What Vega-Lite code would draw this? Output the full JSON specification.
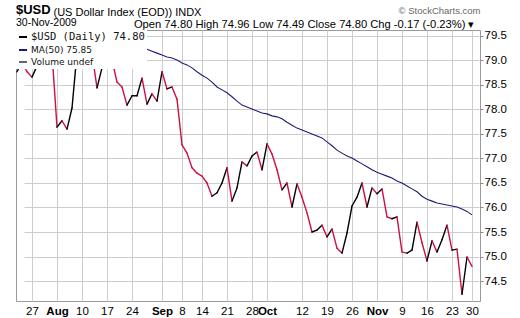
{
  "$schema": "https://vega.github.io/schema/vega-lite/v6.json",
  "width": 464,
  "height": 271,
  "autosize": {"type": "none"},
  "padding": {"left": 16, "top": 30, "right": 40, "bottom": 17},
  "background": "white",
  "config": {
    "font": "Liberation Sans",
    "view": {"stroke": "#9a9a9a", "strokeWidth": 1},
    "legend": {
      "orient": "top-left", "offset": 0, "padding": 2, "fillColor": "white",
      "labelFont": "DejaVu Sans", "labelFontSize": 9, "labelColor": "#111",
      "symbolType": "stroke", "symbolStrokeWidth": 2, "symbolSize": 64,
      "rowPadding": 2, "labelLimit": 300, "labelOffset": 3, "title": null
    }
  },
  "title": {
    "text": "$USD", "subtitle": "30-Nov-2009", "anchor": "start", "frame": "group",
    "font": "Liberation Sans", "fontSize": 13, "fontWeight": "bold", "color": "#000",
    "subtitleFont": "Liberation Sans", "subtitleFontSize": 10.5, "subtitleColor": "#000",
    "subtitlePadding": 1, "offset": -23
  },
  "datasets": {
    "px": [
      {"d": "2009-07-22", "c": 78.77}, {"d": "2009-07-23", "c": 78.97}, {"d": "2009-07-24", "c": 78.77},
      {"d": "2009-07-27", "c": 78.66}, {"d": "2009-07-28", "c": 78.89}, {"d": "2009-07-29", "c": 79.25},
      {"d": "2009-07-30", "c": 79.45}, {"d": "2009-07-31", "c": 79.15}, {"d": "2009-08-03", "c": 77.64},
      {"d": "2009-08-04", "c": 77.77}, {"d": "2009-08-05", "c": 77.60}, {"d": "2009-08-06", "c": 78.03},
      {"d": "2009-08-07", "c": 79.15}, {"d": "2009-08-10", "c": 79.45}, {"d": "2009-08-11", "c": 79.35},
      {"d": "2009-08-12", "c": 79.15}, {"d": "2009-08-13", "c": 78.44}, {"d": "2009-08-14", "c": 78.85},
      {"d": "2009-08-17", "c": 79.29}, {"d": "2009-08-18", "c": 79.01}, {"d": "2009-08-19", "c": 78.56},
      {"d": "2009-08-20", "c": 78.46}, {"d": "2009-08-21", "c": 78.09}, {"d": "2009-08-24", "c": 78.28},
      {"d": "2009-08-25", "c": 78.28}, {"d": "2009-08-26", "c": 78.64}, {"d": "2009-08-27", "c": 78.11},
      {"d": "2009-08-28", "c": 78.32}, {"d": "2009-08-31", "c": 78.17}, {"d": "2009-09-01", "c": 78.77},
      {"d": "2009-09-02", "c": 78.42}, {"d": "2009-09-03", "c": 78.46}, {"d": "2009-09-04", "c": 78.21},
      {"d": "2009-09-08", "c": 77.28}, {"d": "2009-09-09", "c": 77.11}, {"d": "2009-09-10", "c": 76.81},
      {"d": "2009-09-11", "c": 76.70}, {"d": "2009-09-14", "c": 76.64}, {"d": "2009-09-15", "c": 76.50},
      {"d": "2009-09-16", "c": 76.23}, {"d": "2009-09-17", "c": 76.30}, {"d": "2009-09-18", "c": 76.50},
      {"d": "2009-09-21", "c": 76.81}, {"d": "2009-09-22", "c": 76.13}, {"d": "2009-09-23", "c": 76.40},
      {"d": "2009-09-24", "c": 76.93}, {"d": "2009-09-25", "c": 76.85}, {"d": "2009-09-28", "c": 77.05},
      {"d": "2009-09-29", "c": 77.13}, {"d": "2009-09-30", "c": 76.77}, {"d": "2009-10-01", "c": 77.30},
      {"d": "2009-10-02", "c": 77.09}, {"d": "2009-10-05", "c": 76.77}, {"d": "2009-10-06", "c": 76.36},
      {"d": "2009-10-07", "c": 76.50}, {"d": "2009-10-08", "c": 76.01}, {"d": "2009-10-09", "c": 76.48},
      {"d": "2009-10-12", "c": 76.21}, {"d": "2009-10-13", "c": 75.89}, {"d": "2009-10-14", "c": 75.50},
      {"d": "2009-10-15", "c": 75.54}, {"d": "2009-10-16", "c": 75.64}, {"d": "2009-10-19", "c": 75.40},
      {"d": "2009-10-20", "c": 75.56}, {"d": "2009-10-21", "c": 75.17}, {"d": "2009-10-22", "c": 75.07},
      {"d": "2009-10-23", "c": 75.48}, {"d": "2009-10-26", "c": 76.03}, {"d": "2009-10-27", "c": 76.21},
      {"d": "2009-10-28", "c": 76.50}, {"d": "2009-10-29", "c": 76.01}, {"d": "2009-10-30", "c": 76.40},
      {"d": "2009-11-02", "c": 76.28}, {"d": "2009-11-03", "c": 76.38}, {"d": "2009-11-04", "c": 75.81},
      {"d": "2009-11-05", "c": 75.77}, {"d": "2009-11-06", "c": 75.81}, {"d": "2009-11-09", "c": 75.09},
      {"d": "2009-11-10", "c": 75.07}, {"d": "2009-11-11", "c": 75.13}, {"d": "2009-11-12", "c": 75.70},
      {"d": "2009-11-13", "c": 75.28}, {"d": "2009-11-16", "c": 74.91}, {"d": "2009-11-17", "c": 75.32},
      {"d": "2009-11-18", "c": 75.09}, {"d": "2009-11-19", "c": 75.34}, {"d": "2009-11-20", "c": 75.64},
      {"d": "2009-11-23", "c": 75.13}, {"d": "2009-11-24", "c": 75.15}, {"d": "2009-11-25", "c": 74.23},
      {"d": "2009-11-27", "c": 74.99}, {"d": "2009-11-30", "c": 74.80}
    ],
    "ma": [
      {"d": "2009-08-20", "m": 79.46}, {"d": "2009-08-21", "m": 79.42}, {"d": "2009-08-24", "m": 79.38},
      {"d": "2009-08-25", "m": 79.33}, {"d": "2009-08-26", "m": 79.28}, {"d": "2009-08-27", "m": 79.23},
      {"d": "2009-08-28", "m": 79.19}, {"d": "2009-08-31", "m": 79.15}, {"d": "2009-09-01", "m": 79.11},
      {"d": "2009-09-02", "m": 79.07}, {"d": "2009-09-03", "m": 79.05}, {"d": "2009-09-04", "m": 79.01},
      {"d": "2009-09-08", "m": 78.95}, {"d": "2009-09-09", "m": 78.91}, {"d": "2009-09-10", "m": 78.85},
      {"d": "2009-09-11", "m": 78.77}, {"d": "2009-09-14", "m": 78.70}, {"d": "2009-09-15", "m": 78.64},
      {"d": "2009-09-16", "m": 78.56}, {"d": "2009-09-17", "m": 78.46}, {"d": "2009-09-18", "m": 78.40},
      {"d": "2009-09-21", "m": 78.34}, {"d": "2009-09-22", "m": 78.26}, {"d": "2009-09-23", "m": 78.17},
      {"d": "2009-09-24", "m": 78.09}, {"d": "2009-09-25", "m": 78.05}, {"d": "2009-09-28", "m": 78.01},
      {"d": "2009-09-29", "m": 77.97}, {"d": "2009-09-30", "m": 77.93}, {"d": "2009-10-01", "m": 77.91},
      {"d": "2009-10-02", "m": 77.87}, {"d": "2009-10-05", "m": 77.85}, {"d": "2009-10-06", "m": 77.81},
      {"d": "2009-10-07", "m": 77.74}, {"d": "2009-10-08", "m": 77.68}, {"d": "2009-10-09", "m": 77.62},
      {"d": "2009-10-12", "m": 77.58}, {"d": "2009-10-13", "m": 77.54}, {"d": "2009-10-14", "m": 77.50},
      {"d": "2009-10-15", "m": 77.46}, {"d": "2009-10-16", "m": 77.42}, {"d": "2009-10-19", "m": 77.34},
      {"d": "2009-10-20", "m": 77.26}, {"d": "2009-10-21", "m": 77.17}, {"d": "2009-10-22", "m": 77.11},
      {"d": "2009-10-23", "m": 77.05}, {"d": "2009-10-26", "m": 77.01}, {"d": "2009-10-27", "m": 76.95},
      {"d": "2009-10-28", "m": 76.89}, {"d": "2009-10-29", "m": 76.83}, {"d": "2009-10-30", "m": 76.77},
      {"d": "2009-11-02", "m": 76.72}, {"d": "2009-11-03", "m": 76.68}, {"d": "2009-11-04", "m": 76.64},
      {"d": "2009-11-05", "m": 76.60}, {"d": "2009-11-06", "m": 76.54}, {"d": "2009-11-09", "m": 76.50},
      {"d": "2009-11-10", "m": 76.44}, {"d": "2009-11-11", "m": 76.38}, {"d": "2009-11-12", "m": 76.32},
      {"d": "2009-11-13", "m": 76.23}, {"d": "2009-11-16", "m": 76.17}, {"d": "2009-11-17", "m": 76.13},
      {"d": "2009-11-18", "m": 76.09}, {"d": "2009-11-19", "m": 76.07}, {"d": "2009-11-20", "m": 76.05},
      {"d": "2009-11-23", "m": 76.03}, {"d": "2009-11-24", "m": 76.01}, {"d": "2009-11-25", "m": 75.97},
      {"d": "2009-11-27", "m": 75.92}, {"d": "2009-11-30", "m": 75.85}
    ]
  },
  "layer": [
    {
      "data": {"name": "px"},
      "transform": [
        {"window": [{"op": "lag", "field": "c", "as": "pc"}, {"op": "lag", "field": "d", "as": "pd"}],
         "sort": [{"field": "d", "order": "ascending"}]},
        {"filter": "datum.pd != null"}
      ],
      "mark": {"type": "rule", "strokeWidth": 1.4, "strokeCap": "round", "clip": true},
      "encoding": {
        "x": {
          "field": "pd", "type": "ordinal",
          "scale": {"type": "point", "range": [1, 456], "padding": 0},
          "axis": {
            "values": ["2009-07-27","2009-08-03","2009-08-10","2009-08-17","2009-08-24","2009-09-01","2009-09-08","2009-09-14","2009-09-21","2009-09-28","2009-10-01","2009-10-12","2009-10-19","2009-10-26","2009-11-02","2009-11-09","2009-11-16","2009-11-23","2009-11-30"],
            "labelExpr": "utcdate(toDate(datum.value)) <= 3 ? utcFormat(toDate(datum.value), '%b') : utcFormat(toDate(datum.value), '%-d')",
            "labelFontWeight": {"condition": {"test": "utcdate(toDate(datum.value)) <= 3", "value": "bold"}, "value": "normal"},
            "labelAngle": 0, "labelOverlap": false, "labelFlush": false,
            "labelFont": "Liberation Sans", "labelFontSize": 11.5, "labelColor": "#000", "labelPadding": 4,
            "ticks": false, "domain": false,
            "grid": true, "gridColor": "#cdcdcd", "gridWidth": 1,
            "title": "© StockCharts.com", "titleFont": "Liberation Sans", "titleFontSize": 9.5,
            "titleFontWeight": "normal", "titleColor": "#666", "titleAlign": "right",
            "titleBaseline": "alphabetic", "titleX": 464, "titleY": -288, "titleAngle": 0
          }
        },
        "x2": {"field": "d"},
        "y": {
          "field": "pc", "type": "quantitative",
          "scale": {"domain": [74.092, 79.622], "zero": false, "nice": false},
          "axis": {
            "orient": "right",
            "values": [74.5, 75, 75.5, 76, 76.5, 77, 77.5, 78, 78.5, 79, 79.5],
            "format": ".1f", "grid": true, "gridColor": "#cdcdcd", "gridWidth": 1,
            "domain": false, "tickSize": 3, "tickColor": "#888",
            "labelFont": "Liberation Sans", "labelFontSize": 11.5, "labelColor": "#000", "labelPadding": 1,
            "title": "Open 74.80 High 74.96 Low 74.49 Close 74.80 Chg -0.17 (-0.23%) ▾",
            "titleFont": "Liberation Sans", "titleFontSize": 11.2, "titleFontWeight": "normal", "titleColor": "#000",
            "titleAngle": 0, "titleAlign": "right", "titleBaseline": "alphabetic",
            "titleX": -6, "titleY": -3
          }
        },
        "y2": {"field": "c"},
        "color": {"condition": {"test": "datum.c >= datum.pc", "value": "#000000"}, "value": "#cc1040"}
      }
    },
    {
      "data": {"name": "ma"},
      "mark": {"type": "line", "strokeWidth": 1.1, "clip": true},
      "encoding": {
        "x": {"field": "d", "type": "ordinal"},
        "y": {
          "field": "m", "type": "quantitative",
          "scale": {"domain": [74.092, 79.622], "zero": false, "nice": false},
          "axis": {
            "orient": "left", "labels": false, "ticks": false, "domain": false, "grid": false,
            "title": "(US Dollar Index (EOD)) INDX",
            "titleFont": "Liberation Sans", "titleFontSize": 11, "titleFontWeight": "normal", "titleColor": "#000",
            "titleAngle": 0, "titleAlign": "left", "titleBaseline": "alphabetic",
            "titleX": 37, "titleY": -15
          }
        },
        "color": {
          "datum": "MA(50) 75.85", "type": "nominal",
          "scale": {"domain": ["$USD (Daily) 74.80", "MA(50) 75.85", "Volume undef"], "range": ["#000000", "#1c1c78", "#666666"]},
          "legend": {
            "orient": "top-left",
            "encode": {
              "labels": {
                "update": {
                  "font": [{"test": "datum.index === 0", "value": "DejaVu Sans Mono"}, {"value": "DejaVu Sans"}],
                  "fontSize": [{"test": "datum.index === 0", "value": 10.5}, {"value": 9}]
                }
              }
            }
          }
        }
      }
    }
  ],
  "resolve": {"scale": {"y": "independent"}, "axis": {"y": "independent"}}
}
